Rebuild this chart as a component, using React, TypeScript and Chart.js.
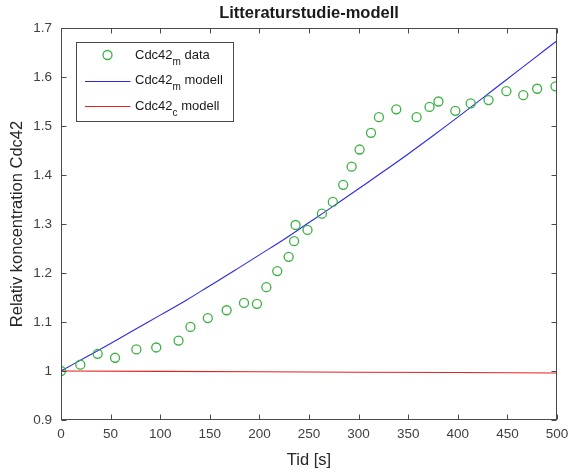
import React, { useEffect, useRef } from "react";
import { Chart, registerables } from "chart.js";

Chart.register(...registerables);

const chartTitle = "Litteraturstudie-modell";
const xAxisTitle = "Tid [s]";
const yAxisTitle = "Relativ koncentration Cdc42";

const dataTimes = [0, 19.5, 37, 54.5, 76, 96, 118.5, 130.5, 148, 167, 184.5, 197.5, 207, 218, 229.5, 235, 236.5, 248.5, 263, 274, 284.5, 293, 301, 312.5, 320.5, 338, 358.5, 371.5, 380.5, 397.5, 413, 431, 449, 466, 480, 498.5];
const dataValues = [1.0, 1.013, 1.035, 1.027, 1.044, 1.048, 1.062, 1.09, 1.108, 1.124, 1.139, 1.137, 1.171, 1.204, 1.233, 1.265, 1.298, 1.288, 1.321, 1.345, 1.38, 1.417, 1.452, 1.486, 1.518, 1.534, 1.518, 1.539, 1.55, 1.531, 1.546, 1.553, 1.571, 1.563, 1.576, 1.581];

const modelTimes = [0, 25, 50, 75, 100, 125, 150, 175, 200, 225, 250, 275, 300, 325, 350, 375, 400, 425, 450, 475, 500];
const modelMembrane = [1.0, 1.028, 1.056, 1.085, 1.114, 1.143, 1.174, 1.205, 1.237, 1.269, 1.303, 1.337, 1.372, 1.407, 1.443, 1.48, 1.518, 1.557, 1.596, 1.635, 1.674];
const cytoTimes = [0, 100, 200, 300, 400, 500];
const modelCytosol = [1.0, 0.9992, 0.9984, 0.9976, 0.9968, 0.996];

const GREEN = "#3cb043";
const BLUE = "#2a2ae6";
const RED = "#e82020";

const legendItems = [
  { base: "Cdc42", sub: "m", rest: " data", kind: "marker", color: GREEN },
  { base: "Cdc42", sub: "m", rest: " modell", kind: "line", color: BLUE },
  { base: "Cdc42", sub: "c", rest: " modell", kind: "line", color: RED },
];

const FONT = "'Liberation Sans', Arial, Helvetica, sans-serif";
const AXIS_COLOR = "#4a4a4a";
const TEXT_COLOR = "#404040";

const framePlugin = {
  id: "matlabFrame",
  afterDraw(chart: any) {
    const { ctx, chartArea, scales } = chart;
    const { left, right, top, bottom } = chartArea;
    const L = Math.round(left) + 0.5;
    const R = Math.round(right) - 0.5;
    const T = Math.round(top) + 0.5;
    const B = Math.round(bottom) - 0.5;
    ctx.save();
    ctx.strokeStyle = AXIS_COLOR;
    ctx.lineWidth = 1;
    ctx.strokeRect(L, T, R - L, B - T);
    const tl = 5;
    ctx.beginPath();
    scales.x.ticks.forEach((t: any) => {
      const px = Math.round(scales.x.getPixelForValue(t.value)) + 0.5;
      ctx.moveTo(px, B);
      ctx.lineTo(px, B - tl);
      ctx.moveTo(px, T);
      ctx.lineTo(px, T + tl);
    });
    scales.y.ticks.forEach((t: any) => {
      const py = Math.round(scales.y.getPixelForValue(t.value)) + 0.5;
      ctx.moveTo(L, py);
      ctx.lineTo(L + tl, py);
      ctx.moveTo(R, py);
      ctx.lineTo(R - tl, py);
    });
    ctx.stroke();

    // title
    ctx.fillStyle = "#1a1a1a";
    ctx.font = `bold 16.5px ${FONT}`;
    ctx.textAlign = "center";
    ctx.textBaseline = "alphabetic";
    ctx.fillText(chartTitle, (left + right) / 2, 18);

    // legend
    const bx = Math.round(left) + 15.5;
    const by = Math.round(top) + 14.5;
    const bw = 157;
    const bh = 79;
    ctx.fillStyle = "#ffffff";
    ctx.fillRect(bx, by, bw, bh);
    ctx.strokeStyle = AXIS_COLOR;
    ctx.lineWidth = 1;
    ctx.strokeRect(bx, by, bw, bh);
    legendItems.forEach((it, i) => {
      const cy = by + 12.5 + i * 25.5;
      if (it.kind === "marker") {
        ctx.strokeStyle = it.color;
        ctx.lineWidth = 1.3;
        ctx.beginPath();
        ctx.arc(bx + 31, cy, 4.5, 0, Math.PI * 2);
        ctx.stroke();
      } else {
        ctx.strokeStyle = it.color;
        ctx.lineWidth = 1.2;
        ctx.beginPath();
        ctx.moveTo(bx + 8.5, Math.round(cy) + 0.5);
        ctx.lineTo(bx + 54, Math.round(cy) + 0.5);
        ctx.stroke();
      }
      ctx.fillStyle = "#1a1a1a";
      ctx.textAlign = "left";
      ctx.textBaseline = "middle";
      let tx = bx + 58.5;
      ctx.font = `13px ${FONT}`;
      ctx.fillText(it.base, tx, cy);
      tx += ctx.measureText(it.base).width;
      ctx.font = `10px ${FONT}`;
      ctx.fillText(it.sub, tx, cy + 7);
      tx += ctx.measureText(it.sub).width;
      ctx.font = `13px ${FONT}`;
      ctx.fillText(it.rest, tx, cy);
    });
    ctx.restore();
  },
};

export default function App() {
  const canvasRef = useRef<HTMLCanvasElement | null>(null);

  useEffect(() => {
    if (!canvasRef.current) return;
    const chart = new Chart(canvasRef.current, {
      type: "scatter",
      data: {
        datasets: [
          {
            label: "Cdc42m data",
            data: dataTimes.map((t, i) => ({ x: t, y: dataValues[i] })),
            showLine: false,
            pointStyle: "circle",
            pointRadius: 4.5,
            pointBorderWidth: 1.3,
            borderColor: GREEN,
            backgroundColor: "rgba(0,0,0,0)",
            order: 0,
          },
          {
            label: "Cdc42m modell",
            data: modelTimes.map((t, i) => ({ x: t, y: modelMembrane[i] })),
            showLine: true,
            pointRadius: 0,
            borderColor: BLUE,
            borderWidth: 1.1,
            tension: 0.4,
            order: 1,
          },
          {
            label: "Cdc42c modell",
            data: cytoTimes.map((t, i) => ({ x: t, y: modelCytosol[i] })),
            showLine: true,
            pointRadius: 0,
            borderColor: RED,
            borderWidth: 1.1,
            order: 2,
          },
        ],
      },
      options: {
        responsive: false,
        animation: false,
        layout: { padding: { left: 0, right: 11, top: 28, bottom: 0 } },
        plugins: {
          legend: { display: false },
          title: { display: false },
          tooltip: { enabled: false },
        },
        scales: {
          x: {
            type: "linear",
            min: 0,
            max: 500,
            grid: { display: false, drawTicks: false },
            border: { display: false },
            ticks: {
              stepSize: 50,
              padding: 6,
              color: TEXT_COLOR,
              font: { family: FONT, size: 13.5 },
              maxRotation: 0,
            },
            title: {
              display: true,
              text: xAxisTitle,
              color: "#262626",
              font: { family: FONT, size: 16.5 },
              padding: { top: 0, bottom: 4 },
            },
            afterFit(scale: any) {
              scale.height = 54;
              scale.paddingLeft = 0;
              scale.paddingRight = 0;
            },
          },
          y: {
            type: "linear",
            min: 0.9,
            max: 1.7,
            grid: { display: false, drawTicks: false },
            border: { display: false },
            ticks: {
              stepSize: 0.1,
              padding: 9,
              color: TEXT_COLOR,
              font: { family: FONT, size: 13.5 },
              callback: (v: any) => String(Number(Number(v).toFixed(1))),
            },
            title: {
              display: true,
              text: yAxisTitle,
              color: "#262626",
              font: { family: FONT, size: 16.5 },
              padding: { top: 8, bottom: 0 },
            },
            afterFit(scale: any) {
              scale.width = 61;
              scale.paddingTop = 0;
              scale.paddingBottom = 0;
            },
          },
        },
      },
      plugins: [framePlugin],
    });
    return () => chart.destroy();
  }, []);

  return (
    <div style={{ position: "fixed", left: 0, top: 0, width: 568, height: 474, background: "#ffffff" }}>
      <canvas ref={canvasRef} width={568} height={474} />
    </div>
  );
}
